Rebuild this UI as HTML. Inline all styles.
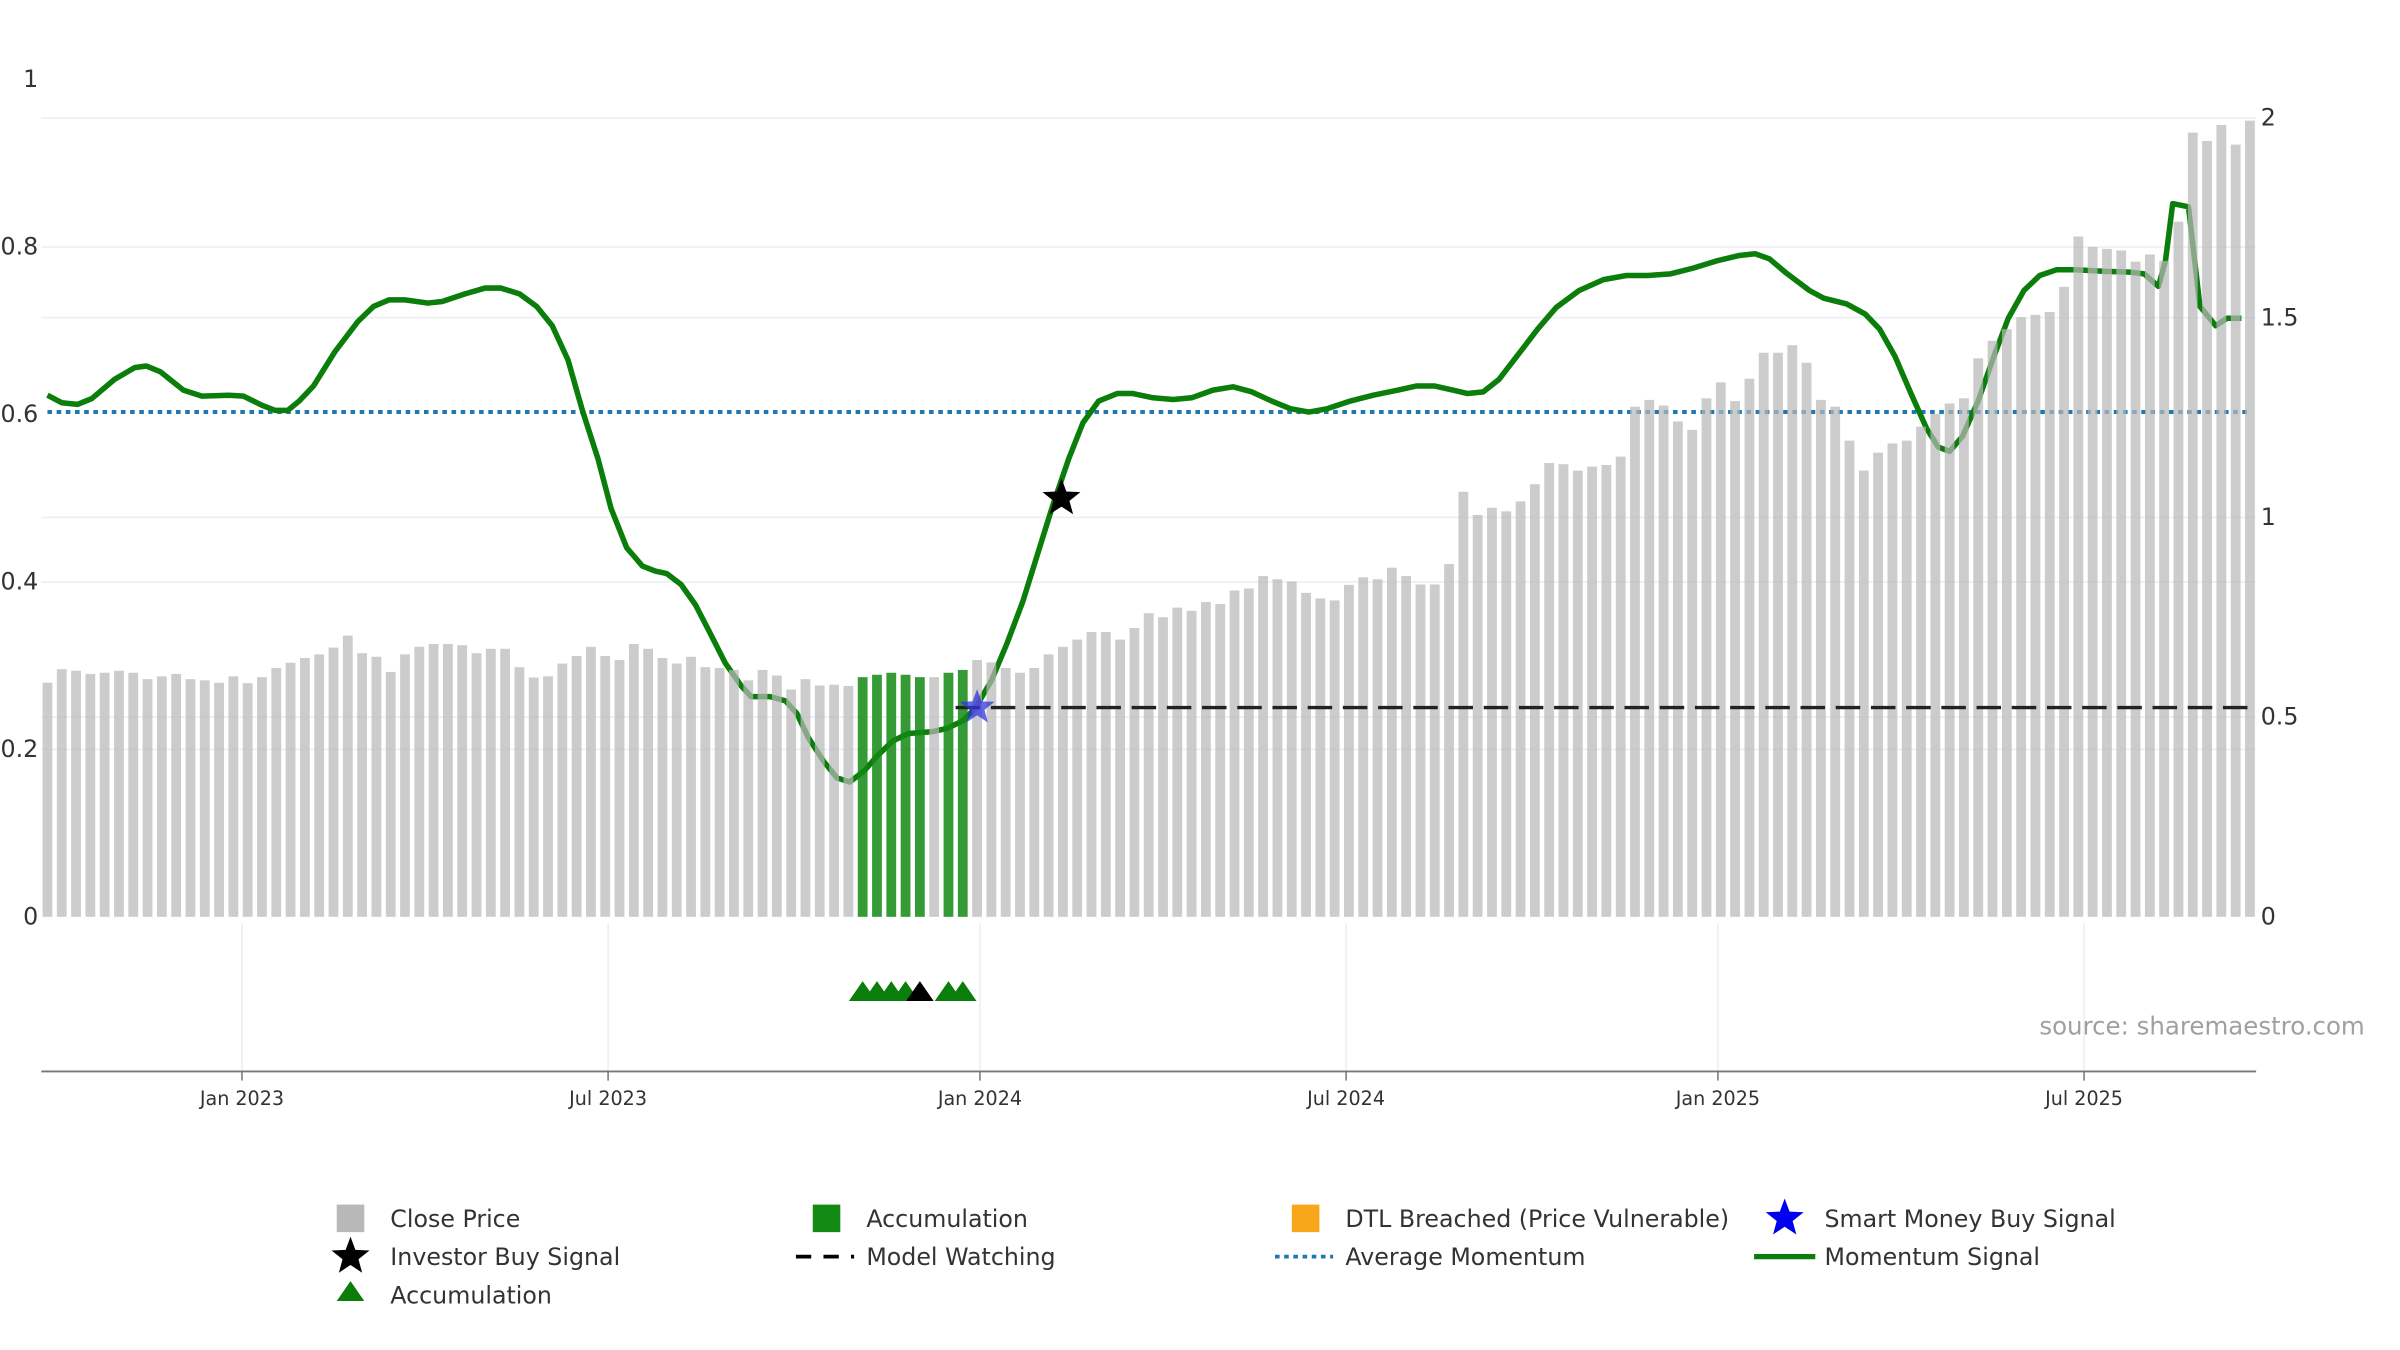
<!DOCTYPE html>
<html><head><meta charset="utf-8"><style>
html,body{margin:0;padding:0;background:#fff}
svg{display:block;font-family:"DejaVu Sans","Liberation Sans",sans-serif}
</style></head><body>
<svg id="chart" width="2400" height="1350" viewBox="0 0 1568 882" xmlns="http://www.w3.org/2000/svg"></svg>
<script>
const closePrice=[0.586,0.62,0.616,0.608,0.611,0.616,0.611,0.595,0.602,0.608,0.595,0.592,0.586,0.602,0.585,0.6,0.623,0.636,0.648,0.657,0.674,0.704,0.66,0.651,0.613,0.657,0.676,0.683,0.683,0.68,0.66,0.671,0.671,0.625,0.599,0.602,0.634,0.653,0.676,0.653,0.643,0.683,0.671,0.648,0.634,0.651,0.625,0.623,0.618,0.592,0.618,0.604,0.569,0.595,0.579,0.581,0.578,
0.6,0.606,0.611,0.606,0.6,0.6,0.611,0.618,
0.643,0.637,0.623,0.611,0.623,0.657,0.676,0.694,0.713,0.713,0.694,0.723,0.76,0.75,0.774,0.766,
0.788,0.783,0.817,0.822,0.853,0.845,0.839,0.811,0.797,0.792,0.831,0.85,0.845,0.874,0.853,0.832,0.832,0.883,1.064,1.006,1.024,1.015,1.04,1.083,1.136,1.133,1.117,1.127,1.131,1.152,1.277,1.294,1.28,1.24,1.219,1.298,1.338,1.291,1.347,1.412,1.412,1.431,1.387,1.294,1.277,1.192,1.117,1.162,1.185,1.192,1.227,1.259,1.285,1.298,1.398,1.442,1.471,1.501,1.507,1.514,1.577,1.703,1.677,1.672,1.668,1.64,1.658,1.642,1.74,1.963,1.942,1.982,1.933,1.993];
const accumulationBars=[57,58,59,60,61,63,64];
const accumulationTriangles=[57,58,59,60,63,64];
const watchTriangles=[61];
const momentumWeeks=[0,1,2.1,3.1,4.7,6.1,6.9,7.9,9.5,10.8,12.7,13.7,15,15.9,16.8,17.6,18.6,20.1,21.7,22.8,23.9,25,26.6,27.6,29.2,30.6,31.7,33,34.2,35.3,36.4,37.4,38.5,39.4,40.5,41.6,42.5,43.3,44.3,45.3,46.3,47.4,48.5,49.2,50.5,51.6,52.4,53.2,54.3,55.2,56.1,57.1,58,59.1,60.2,61.8,62.9,64,64.9,66,67.1,68.2,69.3,70.3,71.4,72.4,73.5,74.8,75.9,77.3,78.7,80,81.5,82.9,84.2,85.6,86.9,88.2,89.5,91.1,92.7,94.4,95.7,97,98.3,99.3,100.4,101.5,102.8,104.2,105.5,107.1,108.8,110.4,111.9,113.5,115.1,116.8,118.3,119.4,120.4,121.5,123.2,124.2,125.8,127.1,128.1,129.2,130.3,131.4,132.2,133,133.9,135,136,137.1,138.2,139.3,140.5,141.8,143.9,145.6,146.6,147.2,147.6,148.1,148.6,149.7,150.5,151.6,152.4,153.4];
const momentumValues=[0.623,0.614,0.612,0.619,0.642,0.656,0.658,0.651,0.629,0.622,0.623,0.622,0.611,0.605,0.605,0.616,0.634,0.675,0.711,0.729,0.737,0.737,0.733,0.735,0.744,0.751,0.751,0.744,0.729,0.706,0.665,0.605,0.547,0.488,0.441,0.419,0.413,0.41,0.397,0.373,0.34,0.303,0.276,0.263,0.263,0.258,0.243,0.214,0.185,0.166,0.161,0.174,0.192,0.21,0.219,0.221,0.225,0.234,0.25,0.282,0.327,0.377,0.437,0.492,0.547,0.59,0.616,0.625,0.625,0.62,0.618,0.62,0.629,0.633,0.627,0.616,0.607,0.603,0.607,0.616,0.623,0.629,0.634,0.634,0.629,0.625,0.627,0.642,0.671,0.702,0.728,0.748,0.761,0.766,0.766,0.768,0.775,0.784,0.79,0.792,0.786,0.77,0.748,0.739,0.732,0.72,0.702,0.669,0.625,0.583,0.561,0.556,0.574,0.616,0.665,0.715,0.748,0.766,0.773,0.773,0.771,0.77,0.768,0.759,0.753,0.784,0.852,0.848,0.729,0.706,0.715,0.715];
const averageMomentum=0.603;
const modelWatchLevel=0.25, modelWatchStart=63.5;
const smartMoney={week:65,value:0.25};
const investorBuy={week:70.9,value:0.5};
const tickLabels=["Jan 2023","Jul 2023","Jan 2024","Jul 2024","Jan 2025","Jul 2025"];
const tickWeeks=[13.6,39.2,65.2,90.8,116.8,142.4];
const leftTicks=[0,0.2,0.4,0.6,0.8,1];
const rightTicks=[0,0.5,1,1.5,2];

const NS="http://www.w3.org/2000/svg";
const svg=document.getElementById('chart');
const X0=31,STEP=9.344;
const x=w=>X0+w*STEP;
const yL=v=>599-v*547;
const yR=v=>599-v*261;
function el(tag,attrs,parent){const e=document.createElementNS(NS,tag);for(const k in attrs)e.setAttribute(k,attrs[k]);(parent||svg).appendChild(e);return e;}
function txt(s,attrs){const t=el('text',attrs);t.textContent=s;return t;}

[0.2,0.4,0.8].forEach(v=>{const g=el('line',{x1:27,x2:1474,y1:yL(v),y2:yL(v),stroke:'#eceef2','stroke-width':1});

});
[0.5,1,1.5,2].forEach(v=>{const g=el('line',{x1:27,x2:1474,y1:yR(v),y2:yR(v),stroke:'#eceef2','stroke-width':1});

});
tickWeeks.forEach(w=>{const g=el('line',{x1:x(w),x2:x(w),y1:603,y2:700,stroke:'#eceef2','stroke-width':1});

});

const avg=el('line',{x1:31,x2:1470,y1:yL(averageMomentum),y2:yL(averageMomentum),stroke:'#1f77b4','stroke-width':2.6,'stroke-dasharray':'3 3'});



let d='';const n=Math.min(momentumWeeks.length,momentumValues.length);
for(let i=0;i<n;i++)d+=(i?'L':'M')+x(momentumWeeks[i]).toFixed(1)+' '+yL(momentumValues[i]).toFixed(1);
const ml=el('path',{d:d,fill:'none',stroke:'#0a7d0a','stroke-width':3.6,'stroke-linejoin':'round'});



closePrice.forEach((v,i)=>{const acc=accumulationBars.includes(i);
const b=el('rect',{x:x(i)-3.2,y:yR(v),width:6.4,height:yR(0)-yR(v),fill:acc?'#138a13':'#b8b8b8','fill-opacity':acc?0.85:0.72});

});

const mw=el('line',{x1:x(modelWatchStart),x2:1470,y1:yL(modelWatchLevel),y2:yL(modelWatchLevel),stroke:'#222','stroke-width':2.2,'stroke-dasharray':'16 7'});



function star(cx,cy,r,fill,name,op){let p='';for(let k=0;k<10;k++){const rr=k%2?r*0.42:r;const a=-Math.PI/2+k*Math.PI/5;p+=(k?'L':'M')+(cx+rr*Math.cos(a)).toFixed(1)+' '+(cy+rr*Math.sin(a)).toFixed(1);}
const s=el('path',{d:p+'Z',fill:fill,'fill-opacity':op||1});return s;}
star(x(smartMoney.week),yL(smartMoney.value),12,'#3333dd','smart-money-star',0.75);
star(x(investorBuy.week),yL(investorBuy.value),13,'#000','investor-buy-star');

function tri(cx,cy,fill,name){const t=el('path',{d:`M${cx-9} ${cy+6}L${cx} ${cy-7}L${cx+9} ${cy+6}Z`,fill:fill});}
accumulationTriangles.forEach(i=>tri(x(i),648,'#0a7d0a','accumulation-triangle'));
watchTriangles.forEach(i=>tri(x(i),648,'#000','watch-triangle'));

const ax=el('line',{x1:27,x2:1474,y1:700,y2:700,stroke:'#777','stroke-width':1.2});

tickLabels.forEach((s,i)=>{const tk=el('line',{x1:x(tickWeeks[i]),x2:x(tickWeeks[i]),y1:700,y2:706,stroke:'#777'});

const t=txt(s,{x:x(tickWeeks[i]),y:722,'text-anchor':'middle','font-size':12.5,fill:'#333'});
});
leftTicks.forEach(v=>{const t=txt(String(v),{x:25,y:yL(v)+5,'text-anchor':'end','font-size':15.5,fill:'#333'});
});
rightTicks.forEach(v=>{const t=txt(String(v),{x:1477,y:yR(v)+5,'text-anchor':'start','font-size':15.5,fill:'#333'});
});
const src=txt('source: sharemaestro.com',{x:1545,y:676,'text-anchor':'end','font-size':16,fill:'#a0a0a0'});


const cols=[229,540,853,1166];const rows=[796,821,846];
function ltext(s,c,r){const t=txt(s,{x:cols[c]+26,y:rows[r]+5.5,'font-size':15.5,fill:'#333'});}
function sq(c,r,fill){const s=el('rect',{x:cols[c]-9,y:rows[r]-9,width:18,height:18,fill:fill});}
sq(0,0,'#b8b8b8');ltext('Close Price',0,0);
sq(1,0,'#138a13');ltext('Accumulation',1,0);
sq(2,0,'#f9a71a');ltext('DTL Breached (Price Vulnerable)',2,0);
star(cols[3],rows[0],13,'#0000ee','legend-smart-money-star');ltext('Smart Money Buy Signal',3,0);
star(cols[0],rows[1],13,'#000','legend-investor-star');ltext('Investor Buy Signal',0,1);
const l1=el('line',{x1:cols[1]-20,x2:cols[1]+18,y1:rows[1],y2:rows[1],stroke:'#000','stroke-width':2.4,'stroke-dasharray':'10 8'});

ltext('Model Watching',1,1);
const l2=el('line',{x1:cols[2]-20,x2:cols[2]+18,y1:rows[1],y2:rows[1],stroke:'#1f77b4','stroke-width':2.4,'stroke-dasharray':'3 3'});

ltext('Average Momentum',2,1);
const l3=el('line',{x1:cols[3]-20,x2:cols[3]+20,y1:rows[1],y2:rows[1],stroke:'#0a7d0a','stroke-width':3.4});

ltext('Momentum Signal',3,1);
tri(cols[0],rows[2]-2,'#0a7d0a','legend-accumulation-triangle');ltext('Accumulation',0,2);
</script>
</body></html>
